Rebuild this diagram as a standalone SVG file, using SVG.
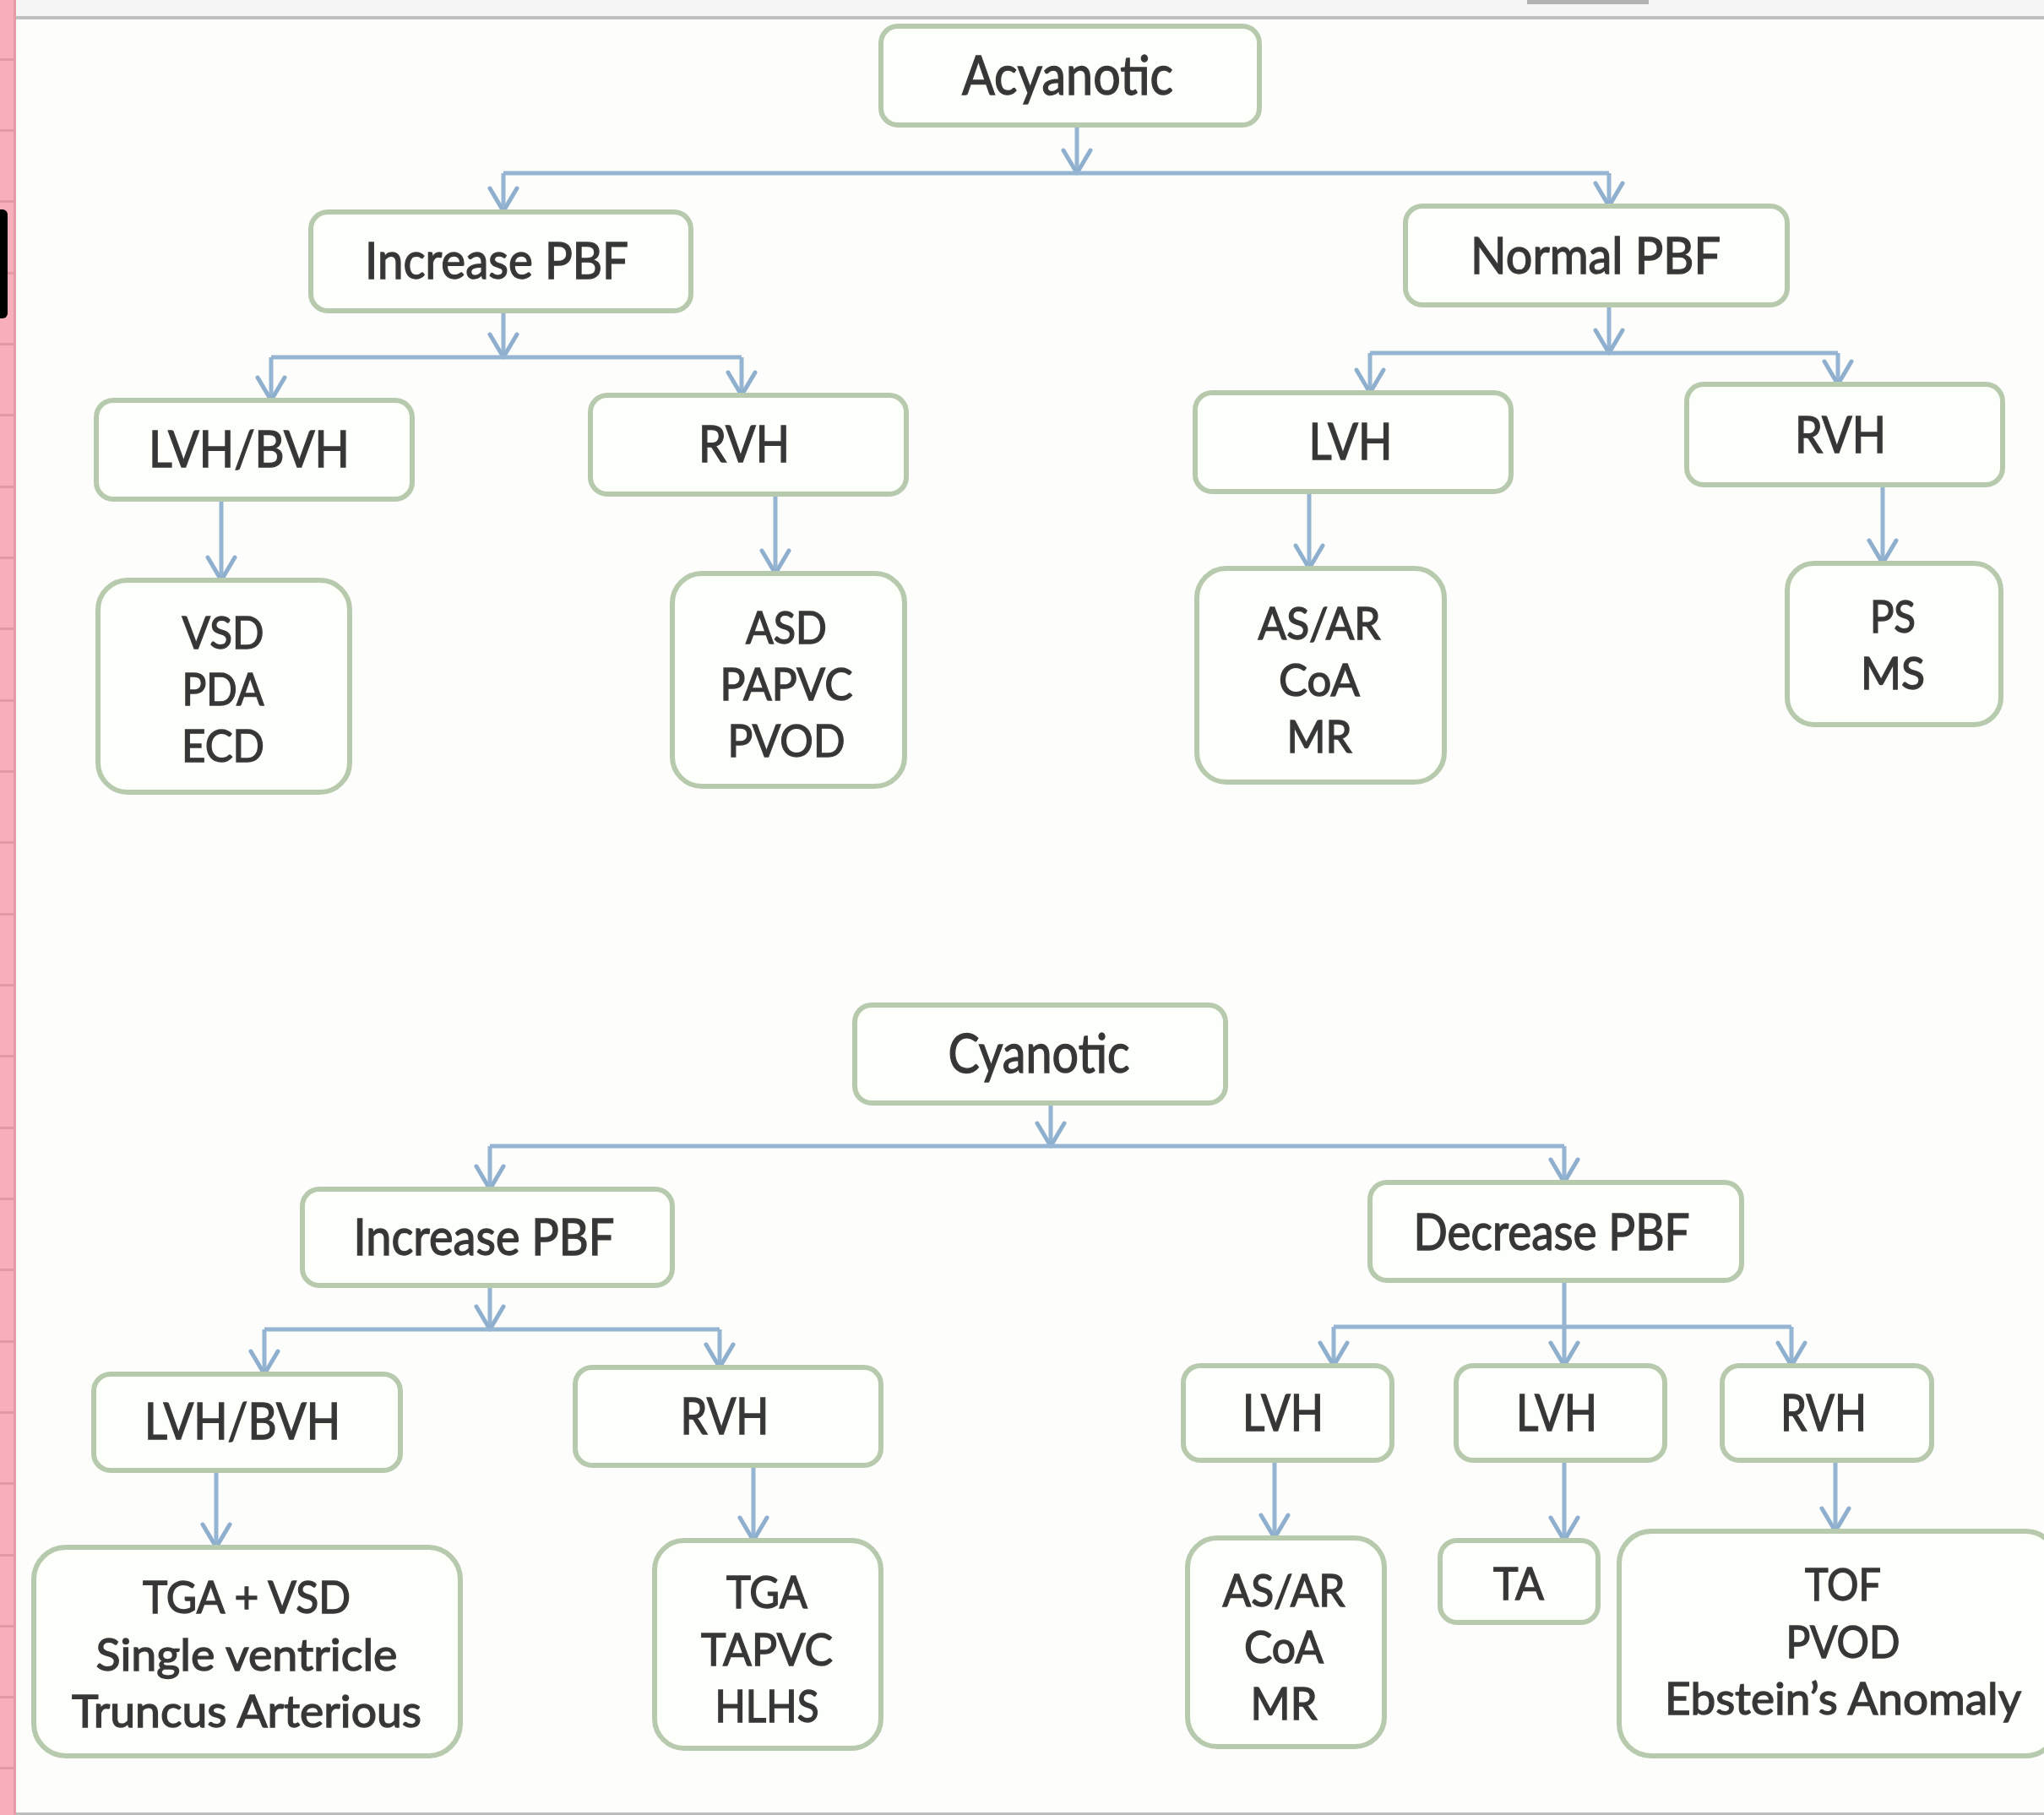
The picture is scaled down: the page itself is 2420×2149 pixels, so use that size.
<svg xmlns="http://www.w3.org/2000/svg" width="2420" height="2149" viewBox="0 0 2420 2149">
<defs>
<style>
.bg{fill:#fdfefc}
.box{fill:#fdfffa;stroke:#b8caad;stroke-width:6}
.t{font-family:"Lato","Open Sans","Liberation Sans",sans-serif;fill:#363636;stroke:#3a3a3a;stroke-width:1.4;text-anchor:middle}
.t1{font-size:64px}
.t2{font-size:60px}
.t3{font-size:53px}
.conn path{fill:none;stroke:#95b5d2;stroke-width:5}
.pk{fill:#e599a7}
</style>
<marker id="arr" markerUnits="userSpaceOnUse" markerWidth="40" markerHeight="40" viewBox="0 0 40 40" refX="33" refY="20" orient="auto">
<path d="M6,4 L33,20 L6,36" fill="none" stroke="#8eafcd" stroke-width="5" stroke-linejoin="round" stroke-linecap="round"/>
</marker>
</defs>

<rect class="bg" x="0" y="0" width="2420" height="2149"/>

<g id="chrome">
<rect x="0" y="0" width="2420" height="20" fill="#f5f5f5"/>
<rect x="0" y="19" width="2420" height="4" fill="#bfbfbf"/>
<rect x="1808" y="0" width="144" height="5" fill="#b3b3b3"/>
<rect x="0" y="2146" width="2420" height="3" fill="#bdbdbd"/>
<rect x="0" y="0" width="18" height="2149" fill="#f9aebb"/>
<rect x="16" y="0" width="3" height="2149" fill="#e59aa8"/>
<rect class="pk" x="0" y="69" width="18" height="3"/>
<rect class="pk" x="0" y="153" width="18" height="3"/>
<rect class="pk" x="0" y="237" width="18" height="3"/>
<rect class="pk" x="0" y="322" width="18" height="3"/>
<rect class="pk" x="0" y="406" width="18" height="3"/>
<rect class="pk" x="0" y="490" width="18" height="3"/>
<rect class="pk" x="0" y="575" width="18" height="3"/>
<rect class="pk" x="0" y="659" width="18" height="3"/>
<rect class="pk" x="0" y="743" width="18" height="3"/>
<rect class="pk" x="0" y="828" width="18" height="3"/>
<rect class="pk" x="0" y="912" width="18" height="3"/>
<rect class="pk" x="0" y="996" width="18" height="3"/>
<rect class="pk" x="0" y="1081" width="18" height="3"/>
<rect class="pk" x="0" y="1165" width="18" height="3"/>
<rect class="pk" x="0" y="1249" width="18" height="3"/>
<rect class="pk" x="0" y="1334" width="18" height="3"/>
<rect class="pk" x="0" y="1418" width="18" height="3"/>
<rect class="pk" x="0" y="1502" width="18" height="3"/>
<rect class="pk" x="0" y="1587" width="18" height="3"/>
<rect class="pk" x="0" y="1671" width="18" height="3"/>
<rect class="pk" x="0" y="1755" width="18" height="3"/>
<rect class="pk" x="0" y="1840" width="18" height="3"/>
<rect class="pk" x="0" y="1924" width="18" height="3"/>
<rect class="pk" x="0" y="2008" width="18" height="3"/>
<rect class="pk" x="0" y="2092" width="18" height="3"/>
<rect x="-12" y="248" width="21" height="129" rx="6" fill="#000"/>
</g>

<g id="connectors" class="conn">
<path d="M1275 148 V205" marker-end="url(#arr)"/>
<path d="M596 205 H1905"/>
<path d="M596 205 V250" marker-end="url(#arr)"/>
<path d="M1905 205 V244" marker-end="url(#arr)"/>
<path d="M596 369 V423" marker-end="url(#arr)"/>
<path d="M321 423 H878"/>
<path d="M321 423 V474" marker-end="url(#arr)"/>
<path d="M878 423 V468" marker-end="url(#arr)"/>
<path d="M1905 361 V418" marker-end="url(#arr)"/>
<path d="M1622 418 H2176"/>
<path d="M1622 418 V465" marker-end="url(#arr)"/>
<path d="M2176 418 V455" marker-end="url(#arr)"/>
<path d="M262 591 V687" marker-end="url(#arr)"/>
<path d="M918 585 V679" marker-end="url(#arr)"/>
<path d="M1550 582 V673" marker-end="url(#arr)"/>
<path d="M2229 574 V667" marker-end="url(#arr)"/>
<path d="M1244 1306 V1357" marker-end="url(#arr)"/>
<path d="M580 1357 H1852"/>
<path d="M580 1357 V1408" marker-end="url(#arr)"/>
<path d="M1852 1357 V1400" marker-end="url(#arr)"/>
<path d="M580 1522 V1574" marker-end="url(#arr)"/>
<path d="M313 1574 H852"/>
<path d="M313 1574 V1627" marker-end="url(#arr)"/>
<path d="M852 1574 V1619" marker-end="url(#arr)"/>
<path d="M1852 1516 V1617" marker-end="url(#arr)"/>
<path d="M1579 1571 H2121"/>
<path d="M1579 1571 V1617" marker-end="url(#arr)"/>
<path d="M2121 1571 V1617" marker-end="url(#arr)"/>
<path d="M256 1741 V1832" marker-end="url(#arr)"/>
<path d="M892 1735 V1824" marker-end="url(#arr)"/>
<path d="M1509 1729 V1821" marker-end="url(#arr)"/>
<path d="M1852 1729 V1824" marker-end="url(#arr)"/>
<path d="M2173 1729 V1813" marker-end="url(#arr)"/>
</g>

<g id="acyanotic">
<rect class="box" x="1043" y="31" width="448" height="117" rx="20"/>
<text class="t t1" x="1264" y="112" textLength="250" lengthAdjust="spacingAndGlyphs">Acyanotic</text>
</g>
<g id="a-increase-pbf">
<rect class="box" x="368" y="251" width="450" height="117" rx="20"/>
<text class="t t2" x="588" y="330" textLength="312" lengthAdjust="spacingAndGlyphs">Increase PBF</text>
</g>
<g id="a-normal-pbf">
<rect class="box" x="1664" y="244" width="452" height="117" rx="20"/>
<text class="t t2" x="1889" y="324" textLength="296" lengthAdjust="spacingAndGlyphs">Normal PBF</text>
</g>
<g id="a-lvh-bvh">
<rect class="box" x="114" y="474" width="374" height="117" rx="20"/>
<text class="t t2" x="295" y="553" textLength="238" lengthAdjust="spacingAndGlyphs">LVH/BVH</text>
</g>
<g id="a-rvh-1">
<rect class="box" x="699" y="468" width="374" height="117" rx="20"/>
<text class="t t2" x="881" y="547" textLength="108" lengthAdjust="spacingAndGlyphs">RVH</text>
</g>
<g id="a-lvh">
<rect class="box" x="1415" y="465" width="374" height="117" rx="20"/>
<text class="t t2" x="1599" y="544" textLength="99" lengthAdjust="spacingAndGlyphs">LVH</text>
</g>
<g id="a-rvh-2">
<rect class="box" x="1997" y="455" width="374" height="119" rx="20"/>
<text class="t t2" x="2179" y="536" textLength="108" lengthAdjust="spacingAndGlyphs">RVH</text>
</g>
<g id="a-vsd">
<rect class="box" x="116" y="687" width="298" height="251" rx="35"/>
<text class="t t3" x="264" y="768" textLength="97" lengthAdjust="spacingAndGlyphs">VSD</text>
<text class="t t3" x="264" y="835" textLength="97" lengthAdjust="spacingAndGlyphs">PDA</text>
<text class="t t3" x="264" y="902" textLength="98" lengthAdjust="spacingAndGlyphs">ECD</text>
</g>
<g id="a-asd">
<rect class="box" x="796" y="679" width="275" height="252" rx="35"/>
<text class="t t3" x="931" y="762" textLength="96" lengthAdjust="spacingAndGlyphs">ASD</text>
<text class="t t3" x="931" y="829" textLength="157" lengthAdjust="spacingAndGlyphs">PAPVC</text>
<text class="t t3" x="931" y="896" textLength="139" lengthAdjust="spacingAndGlyphs">PVOD</text>
</g>
<g id="a-as-ar">
<rect class="box" x="1417" y="673" width="293" height="253" rx="35"/>
<text class="t t3" x="1562" y="757" textLength="145" lengthAdjust="spacingAndGlyphs">AS/AR</text>
<text class="t t3" x="1562" y="824" textLength="96" lengthAdjust="spacingAndGlyphs">CoA</text>
<text class="t t3" x="1562" y="891" textLength="77" lengthAdjust="spacingAndGlyphs">MR</text>
</g>
<g id="a-ps-ms">
<rect class="box" x="2116" y="667" width="253" height="191" rx="32"/>
<text class="t t3" x="2241" y="749" textLength="54" lengthAdjust="spacingAndGlyphs">PS</text>
<text class="t t3" x="2241" y="816" textLength="76" lengthAdjust="spacingAndGlyphs">MS</text>
</g>

<g id="cyanotic">
<rect class="box" x="1012" y="1190" width="439" height="116" rx="20"/>
<text class="t t1" x="1230" y="1270" textLength="215" lengthAdjust="spacingAndGlyphs">Cyanotic</text>
</g>
<g id="c-increase-pbf">
<rect class="box" x="358" y="1408" width="438" height="114" rx="20"/>
<text class="t t2" x="573" y="1486" textLength="309" lengthAdjust="spacingAndGlyphs">Increase PBF</text>
</g>
<g id="c-decrease-pbf">
<rect class="box" x="1622" y="1400" width="440" height="116" rx="20"/>
<text class="t t2" x="1837" y="1480" textLength="327" lengthAdjust="spacingAndGlyphs">Decrease PBF</text>
</g>
<g id="c-lvh-bvh">
<rect class="box" x="111" y="1627" width="363" height="114" rx="20"/>
<text class="t t2" x="287" y="1704" textLength="232" lengthAdjust="spacingAndGlyphs">LVH/BVH</text>
</g>
<g id="c-rvh-1">
<rect class="box" x="681" y="1619" width="362" height="116" rx="20"/>
<text class="t t2" x="858" y="1698" textLength="105" lengthAdjust="spacingAndGlyphs">RVH</text>
</g>
<g id="c-lvh-1">
<rect class="box" x="1401" y="1617" width="247" height="112" rx="20"/>
<text class="t t2" x="1519" y="1694" textLength="96" lengthAdjust="spacingAndGlyphs">LVH</text>
</g>
<g id="c-lvh-2">
<rect class="box" x="1724" y="1617" width="247" height="112" rx="20"/>
<text class="t t2" x="1843" y="1694" textLength="96" lengthAdjust="spacingAndGlyphs">LVH</text>
</g>
<g id="c-rvh-2">
<rect class="box" x="2039" y="1617" width="248" height="112" rx="20"/>
<text class="t t2" x="2159" y="1694" textLength="102" lengthAdjust="spacingAndGlyphs">RVH</text>
</g>
<g id="c-tga-vsd">
<rect class="box" x="40" y="1832" width="505" height="247" rx="38"/>
<text class="t t3" x="292" y="1910" textLength="246" lengthAdjust="spacingAndGlyphs">TGA + VSD</text>
<text class="t t3" x="292" y="1978" textLength="357" lengthAdjust="spacingAndGlyphs">Single ventricle</text>
<text class="t t3" x="292" y="2045" textLength="414" lengthAdjust="spacingAndGlyphs">Truncus Arterious</text>
</g>
<g id="c-tga">
<rect class="box" x="775" y="1824" width="268" height="246" rx="35"/>
<text class="t t3" x="908" y="1904" textLength="96" lengthAdjust="spacingAndGlyphs">TGA</text>
<text class="t t3" x="908" y="1972" textLength="156" lengthAdjust="spacingAndGlyphs">TAPVC</text>
<text class="t t3" x="908" y="2039" textLength="123" lengthAdjust="spacingAndGlyphs">HLHS</text>
</g>
<g id="c-as-ar">
<rect class="box" x="1406" y="1821" width="233" height="247" rx="35"/>
<text class="t t3" x="1520" y="1902" textLength="145" lengthAdjust="spacingAndGlyphs">AS/AR</text>
<text class="t t3" x="1520" y="1969" textLength="94" lengthAdjust="spacingAndGlyphs">CoA</text>
<text class="t t3" x="1520" y="2036" textLength="79" lengthAdjust="spacingAndGlyphs">MR</text>
</g>
<g id="c-ta">
<rect class="box" x="1705" y="1824" width="187" height="97" rx="20"/>
<text class="t t3" x="1798" y="1894" textLength="60" lengthAdjust="spacingAndGlyphs">TA</text>
</g>
<g id="c-tof">
<rect class="box" x="1917" y="1813" width="519" height="266" rx="38"/>
<text class="t t3" x="2182" y="1895" textLength="90" lengthAdjust="spacingAndGlyphs">TOF</text>
<text class="t t3" x="2182" y="1963" textLength="135" lengthAdjust="spacingAndGlyphs">PVOD</text>
<text class="t t3" x="2182" y="2030" textLength="422" lengthAdjust="spacingAndGlyphs">Ebstein’s Anomaly</text>
</g>
</svg>
